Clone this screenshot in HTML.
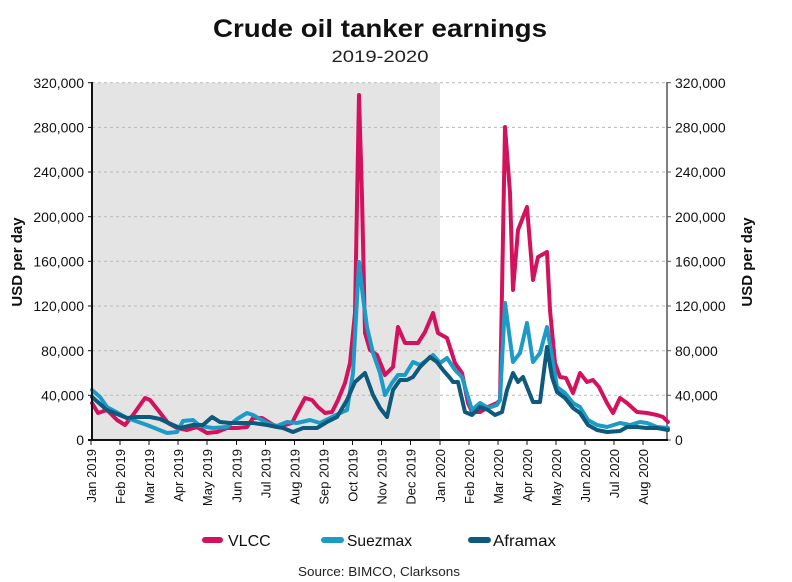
<!DOCTYPE html>
<html><head><meta charset="utf-8"><style>
html,body{margin:0;padding:0;background:#fff;}
svg{display:block;font-family:"Liberation Sans",sans-serif;}
</style></head><body>
<svg width="792" height="582" viewBox="0 0 792 582" xmlns="http://www.w3.org/2000/svg">
<rect width="792" height="582" fill="#fff"/>
<text x="380" y="37" text-anchor="middle" font-size="25" font-weight="bold" fill="#111" textLength="334" lengthAdjust="spacingAndGlyphs">Crude oil tanker earnings</text>
<text x="380" y="62" text-anchor="middle" font-size="17" fill="#222" textLength="97" lengthAdjust="spacingAndGlyphs">2019-2020</text>
<rect x="92" y="82.7" width="348" height="357.3" fill="#e4e4e4"/>
<g stroke="#b8b8b8" stroke-width="1" stroke-dasharray="3,3">
<line x1="92" x2="667" y1="82.7" y2="82.7"/>
<line x1="92" x2="667" y1="127.4" y2="127.4"/>
<line x1="92" x2="667" y1="172" y2="172"/>
<line x1="92" x2="667" y1="216.7" y2="216.7"/>
<line x1="92" x2="667" y1="261.3" y2="261.3"/>
<line x1="92" x2="667" y1="306" y2="306"/>
<line x1="92" x2="667" y1="350.7" y2="350.7"/>
<line x1="92" x2="667" y1="395.3" y2="395.3"/>
</g>
<g font-size="14" fill="#111" text-anchor="end">
<text x="84" y="88">320,000</text>
<text x="84" y="132.5">280,000</text>
<text x="84" y="177">240,000</text>
<text x="84" y="222">200,000</text>
<text x="84" y="266.5">160,000</text>
<text x="84" y="311">120,000</text>
<text x="84" y="356">80,000</text>
<text x="84" y="400.5">40,000</text>
<text x="84" y="445">0</text>
</g>
<g font-size="14" fill="#111" text-anchor="start">
<text x="675" y="88">320,000</text>
<text x="675" y="132.5">280,000</text>
<text x="675" y="177">240,000</text>
<text x="675" y="222">200,000</text>
<text x="675" y="266.5">160,000</text>
<text x="675" y="311">120,000</text>
<text x="675" y="356">80,000</text>
<text x="675" y="400.5">40,000</text>
<text x="675" y="445">0</text>
</g>
<text transform="translate(22,262) rotate(-90)" text-anchor="middle" font-size="15" font-weight="bold" fill="#111">USD per day</text>
<text transform="translate(752,262) rotate(-90)" text-anchor="middle" font-size="15" font-weight="bold" fill="#111">USD per day</text>
<g stroke="#111" stroke-width="1">
<line x1="88" x2="92" y1="82.7" y2="82.7"/><line x1="88" x2="92" y1="127.4" y2="127.4"/><line x1="88" x2="92" y1="172" y2="172"/><line x1="88" x2="92" y1="216.7" y2="216.7"/><line x1="88" x2="92" y1="261.3" y2="261.3"/><line x1="88" x2="92" y1="306" y2="306"/><line x1="88" x2="92" y1="350.7" y2="350.7"/><line x1="88" x2="92" y1="395.3" y2="395.3"/>
</g>
<g stroke="#555" stroke-width="1">
<line x1="667" x2="671" y1="82.7" y2="82.7"/><line x1="667" x2="671" y1="127.4" y2="127.4"/><line x1="667" x2="671" y1="172" y2="172"/><line x1="667" x2="671" y1="216.7" y2="216.7"/><line x1="667" x2="671" y1="261.3" y2="261.3"/><line x1="667" x2="671" y1="306" y2="306"/><line x1="667" x2="671" y1="350.7" y2="350.7"/><line x1="667" x2="671" y1="395.3" y2="395.3"/><line x1="667" x2="671" y1="440" y2="440"/>
</g>
<line x1="667" x2="667" y1="82" y2="440" stroke="#555" stroke-width="1.5"/>
<g fill="none" stroke-width="4" stroke-linejoin="round" stroke-linecap="round">
<polyline stroke="#d3125e" points="92,403 98,413 107,410 117,420 125,425 133,415 145,398 150,400 158,410 168,423 177,428 187,430 197,427 207,433 217,432 227,428 237,428 247,427 253,418 262,418 270,423 277,427 285,425 292,423 297,413 305,398 312,400 318,407 325,413 332,412 338,400 345,383 350,363 355,313 359,95 362,197 365,333 370,350 377,355 382,367 385,375 393,367 398,327 405,343 418,343 425,332 433,313 438,333 447,338 455,363 462,373 468,403 472,412 480,412 488,407 497,403 500,400 505,127 510,193 513,290 518,230 527,207 533,280 538,257 547,252 550,310 555,363 560,377 566,378 573,393 580,373 587,382 593,380 599,387 607,403 613,413 620,398 627,403 637,412 647,413 657,415 663,417 668,422"/>
<polyline stroke="#1c9bc6" points="92,390 100,397 107,407 127,418 147,425 167,433 177,432 183,421 193,420 200,426 213,428 227,427 237,419 247,413 253,415 267,423 277,426 287,422 297,423 310,420 320,423 330,418 340,413 347,410 353,373 359,262 363,297 367,327 373,353 380,373 385,395 392,383 398,375 405,375 413,362 420,365 427,360 433,355 440,363 447,358 455,370 462,377 468,397 472,410 480,403 488,408 497,405 500,400 505,303 510,340 513,362 520,353 527,323 533,362 540,353 547,327 552,357 557,387 565,393 573,403 580,407 588,420 597,425 607,427 620,423 630,425 640,422 647,423 657,427 668,428"/>
<polyline stroke="#0e5a7c" points="92,397 107,410 127,418 137,417 150,417 160,419 173,425 180,428 193,425 203,425 212,417 220,422 230,423 240,423 253,423 267,425 277,427 283,428 293,432 303,428 317,428 327,422 337,417 347,400 355,382 365,373 373,395 380,408 387,417 393,390 400,380 407,380 413,377 420,367 430,357 437,362 443,370 450,378 453,382 458,382 465,412 472,415 480,407 488,410 495,415 502,412 507,390 513,373 518,382 523,377 533,402 540,402 547,347 552,377 557,392 565,398 573,408 580,413 588,425 597,430 607,432 620,431 627,427 637,427 647,428 657,428 668,430"/>
</g>
<line x1="92" x2="92" y1="82" y2="441" stroke="#111" stroke-width="2"/>
<line x1="88" x2="668" y1="440" y2="440" stroke="#111" stroke-width="2"/>
<g stroke="#111" stroke-width="1">
<line x1="91" x2="91" y1="440" y2="445"/><line x1="120" x2="120" y1="440" y2="445"/><line x1="149" x2="149" y1="440" y2="445"/><line x1="178" x2="178" y1="440" y2="445"/><line x1="207" x2="207" y1="440" y2="445"/><line x1="236.5" x2="236.5" y1="440" y2="445"/><line x1="265.5" x2="265.5" y1="440" y2="445"/><line x1="294.5" x2="294.5" y1="440" y2="445"/><line x1="323.5" x2="323.5" y1="440" y2="445"/><line x1="352.5" x2="352.5" y1="440" y2="445"/><line x1="381.5" x2="381.5" y1="440" y2="445"/><line x1="410.5" x2="410.5" y1="440" y2="445"/><line x1="440" x2="440" y1="440" y2="445"/><line x1="469" x2="469" y1="440" y2="445"/><line x1="498" x2="498" y1="440" y2="445"/><line x1="527" x2="527" y1="440" y2="445"/><line x1="556" x2="556" y1="440" y2="445"/><line x1="585" x2="585" y1="440" y2="445"/><line x1="614" x2="614" y1="440" y2="445"/><line x1="643" x2="643" y1="440" y2="445"/>
</g>
<g font-size="13" fill="#111" text-anchor="end">
<text transform="translate(96,449) rotate(-90)">Jan 2019</text>
<text transform="translate(125,449) rotate(-90)">Feb 2019</text>
<text transform="translate(154,449) rotate(-90)">Mar 2019</text>
<text transform="translate(183,449) rotate(-90)">Apr 2019</text>
<text transform="translate(212,449) rotate(-90)">May 2019</text>
<text transform="translate(241.5,449) rotate(-90)">Jun 2019</text>
<text transform="translate(270.5,449) rotate(-90)">Jul 2019</text>
<text transform="translate(299.5,449) rotate(-90)">Aug 2019</text>
<text transform="translate(328.5,449) rotate(-90)">Sep 2019</text>
<text transform="translate(357.5,449) rotate(-90)">Oct 2019</text>
<text transform="translate(386.5,449) rotate(-90)">Nov 2019</text>
<text transform="translate(415.5,449) rotate(-90)">Dec 2019</text>
<text transform="translate(445,449) rotate(-90)">Jan 2020</text>
<text transform="translate(474,449) rotate(-90)">Feb 2020</text>
<text transform="translate(503,449) rotate(-90)">Mar 2020</text>
<text transform="translate(532,449) rotate(-90)">Apr 2020</text>
<text transform="translate(561,449) rotate(-90)">May 2020</text>
<text transform="translate(590,449) rotate(-90)">Jun 2020</text>
<text transform="translate(619,449) rotate(-90)">Jul 2020</text>
<text transform="translate(648,449) rotate(-90)">Aug 2020</text>
</g>
<g stroke-width="6" stroke-linecap="round">
<line x1="205" x2="220" y1="540" y2="540" stroke="#d3125e"/>
<line x1="324" x2="341" y1="540" y2="540" stroke="#1c9bc6"/>
<line x1="471" x2="488" y1="540" y2="540" stroke="#0e5a7c"/>
</g>
<g font-size="16" fill="#111">
<text x="228" y="546">VLCC</text>
<text x="347" y="546" textLength="65" lengthAdjust="spacingAndGlyphs">Suezmax</text>
<text x="493" y="546" textLength="63" lengthAdjust="spacingAndGlyphs">Aframax</text>
</g>
<text x="379" y="576" text-anchor="middle" font-size="13" fill="#222" textLength="162" lengthAdjust="spacingAndGlyphs">Source: BIMCO, Clarksons</text>
</svg>
</body></html>
